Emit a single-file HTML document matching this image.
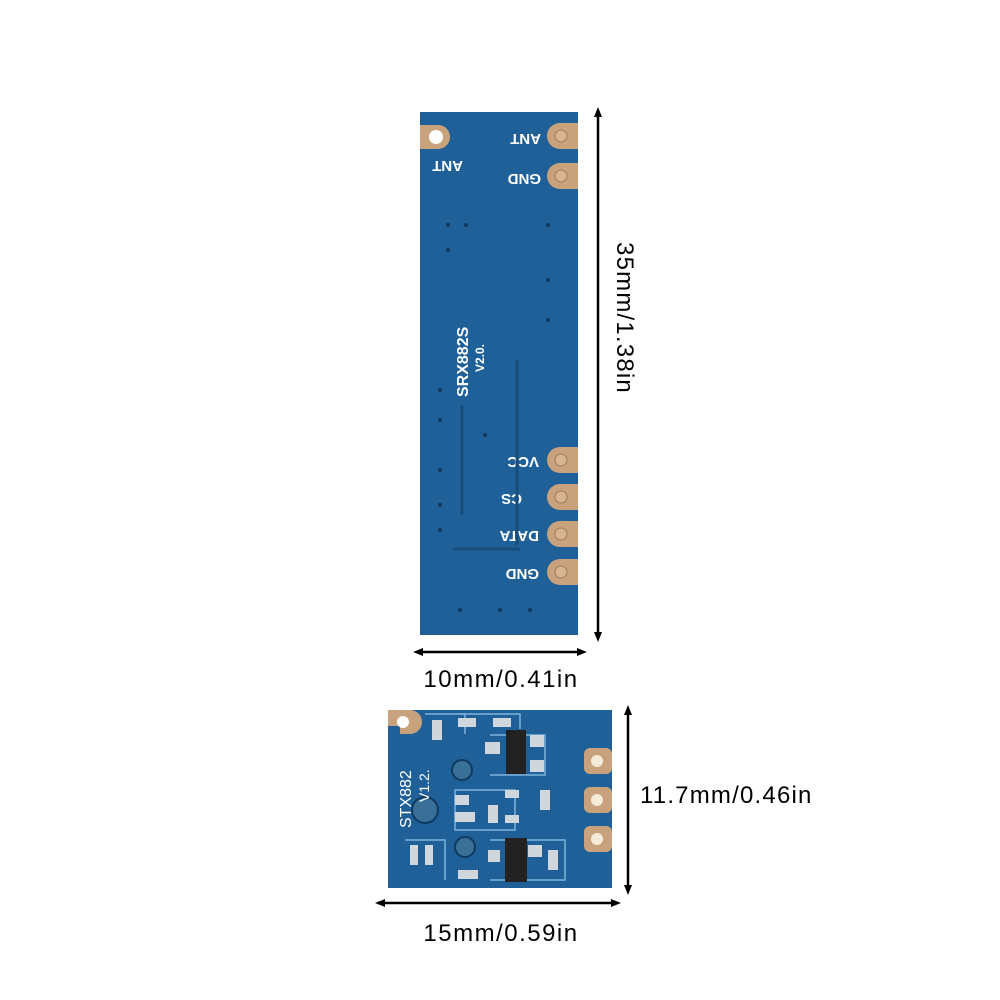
<!DOCTYPE html>
<html><head><style>
html,body{margin:0;padding:0;background:#fff;}
svg{display:block;}
</style></head><body>
<svg width="1000" height="1000" viewBox="0 0 1000 1000" xmlns="http://www.w3.org/2000/svg" font-family="Liberation Sans, sans-serif">
<defs>
<marker id="ah" markerWidth="10" markerHeight="10" refX="5" refY="5" orient="auto-start-reverse" markerUnits="userSpaceOnUse">
<path d="M0,1 L10,5 L0,9 Z" fill="#000"/></marker>
</defs>
<!-- top board -->
<rect x="420" y="112" width="158" height="523" fill="#1e5f98"/>
<rect x="422" y="114" width="154" height="519" fill="#1f6099"/>
<g fill="#c8a27c">
<path d="M420,125 h18 a12,12 0 0 1 0,24 h-18 z"/>
<path d="M578,123 h-18 a13,13 0 0 0 0,26 h18 z"/>
<path d="M578,163 h-18 a13,13 0 0 0 0,26 h18 z"/>
<path d="M578,447 h-18 a13,13 0 0 0 0,26 h18 z"/>
<path d="M578,484 h-18 a13,13 0 0 0 0,26 h18 z"/>
<path d="M578,521 h-18 a13,13 0 0 0 0,26 h18 z"/>
<path d="M578,559 h-18 a13,13 0 0 0 0,26 h18 z"/>
</g>
<circle cx="436" cy="137" r="7" fill="#fff"/>
<g fill="#d8b592" stroke="#a07a55" stroke-width="1">
<circle cx="561" cy="136" r="6"/><circle cx="561" cy="176" r="6"/>
<circle cx="561" cy="460" r="6"/><circle cx="561" cy="497" r="6"/>
<circle cx="561" cy="534" r="6"/><circle cx="561" cy="572" r="6"/>
</g>
<g fill="#fff" font-weight="bold" font-size="15">
<text transform="translate(541,134) rotate(180)">ANT</text>
<text transform="translate(541,174) rotate(180)">GND</text>
<text transform="translate(463,161) rotate(180)">ANT</text>
<text transform="translate(539,457) rotate(180)">VCC</text>
<text transform="translate(522,494) rotate(180)">CS</text>
<text transform="translate(539,531) rotate(180)">DATA</text>
<text transform="translate(539,569) rotate(180)">GND</text>
<text transform="translate(468,397) rotate(-90)" font-size="16">SRX882S</text>
<text transform="translate(484,372) rotate(-90)" font-size="12">V2.0.</text>
</g>
<g stroke="#174d7d" stroke-width="3" fill="none">
<path d="M517,360 V545"/>
<path d="M462,405 V515"/>
<path d="M453,549 H520"/>
</g>
<g fill="#0f3a60">
<circle cx="448" cy="225" r="2"/><circle cx="466" cy="225" r="2"/><circle cx="548" cy="225" r="2"/>
<circle cx="448" cy="250" r="2"/><circle cx="548" cy="280" r="2"/><circle cx="548" cy="320" r="2"/>
<circle cx="440" cy="390" r="2"/><circle cx="440" cy="420" r="2"/><circle cx="485" cy="435" r="2"/>
<circle cx="440" cy="470" r="2"/><circle cx="440" cy="505" r="2"/><circle cx="440" cy="530" r="2"/>
<circle cx="460" cy="610" r="2"/><circle cx="500" cy="610" r="2"/><circle cx="530" cy="610" r="2"/>
</g>
<!-- top arrows -->
<line x1="598" y1="112" x2="598" y2="637" stroke="#000" stroke-width="2.5" marker-start="url(#ah)" marker-end="url(#ah)"/>
<text transform="translate(617,318) rotate(90)" font-size="24" letter-spacing="1.2" text-anchor="middle" fill="#000">35mm/1.38in</text>
<line x1="418" y1="652" x2="582" y2="652" stroke="#000" stroke-width="2.5" marker-start="url(#ah)" marker-end="url(#ah)"/>
<text x="501" y="687" font-size="24" letter-spacing="1.5" text-anchor="middle" fill="#000">10mm/0.41in</text>
<!-- bottom board -->
<rect x="388" y="710" width="224" height="178" fill="#1f6099"/>
<path d="M388,710 h22 a12,12 0 0 1 0,24 h-10 v-8 h-12 z" fill="#c8a27c"/>
<circle cx="403" cy="722" r="6" fill="#fff"/>
<g fill="#c8a27c">
<rect x="584" y="748" width="28" height="26" rx="6"/>
<rect x="584" y="787" width="28" height="26" rx="6"/>
<rect x="584" y="826" width="28" height="26" rx="6"/>
</g>
<g fill="#f5ecd8"><circle cx="597" cy="761" r="6"/><circle cx="597" cy="800" r="6"/><circle cx="597" cy="839" r="6"/></g>
<g stroke="#7fb2de" stroke-width="1.5" fill="none">
<path d="M425,714 h40 v20"/><path d="M460,714 h60 v15"/><path d="M490,735 h55 v40 h-55"/><path d="M455,790 h60 v40 h-60 z"/>
<path d="M490,840 h75 v40 h-75"/><path d="M405,840 h40 v40"/>
</g>
<g fill="#222">
<rect x="506" y="730" width="20" height="44"/><rect x="505" y="838" width="22" height="44"/>
</g>
<g fill="#cfd6dc">
<rect x="432" y="720" width="10" height="20"/><rect x="458" y="718" width="18" height="9"/><rect x="493" y="718" width="18" height="9"/>
<rect x="485" y="742" width="15" height="12"/><rect x="530" y="735" width="14" height="12"/><rect x="530" y="760" width="14" height="12"/>
<rect x="455" y="795" width="14" height="10"/><rect x="455" y="812" width="20" height="10"/><rect x="488" y="805" width="10" height="18"/>
<rect x="505" y="790" width="14" height="8"/><rect x="540" y="790" width="10" height="20"/><rect x="505" y="815" width="14" height="8"/>
<rect x="410" y="845" width="8" height="20"/><rect x="425" y="845" width="8" height="20"/><rect x="458" y="870" width="20" height="9"/>
<rect x="488" y="850" width="12" height="12"/><rect x="528" y="845" width="14" height="12"/><rect x="548" y="850" width="10" height="20"/>
</g>
<g fill="#3a6f98" stroke="#0f3a60" stroke-width="2">
<circle cx="462" cy="770" r="10"/><circle cx="425" cy="810" r="13"/><circle cx="465" cy="847" r="10"/>
</g>
<g fill="#fff" font-size="16">
<text transform="translate(411,828) rotate(-90)">STX882</text>
<text transform="translate(429,802) rotate(-90)" font-size="14">V1.2.</text>
</g>
<!-- bottom arrows -->
<line x1="628" y1="710" x2="628" y2="890" stroke="#000" stroke-width="2.5" marker-start="url(#ah)" marker-end="url(#ah)"/>
<text x="640" y="803" font-size="24" letter-spacing="1.2" fill="#000">11.7mm/0.46in</text>
<line x1="380" y1="903" x2="616" y2="903" stroke="#000" stroke-width="2.5" marker-start="url(#ah)" marker-end="url(#ah)"/>
<text x="501" y="941" font-size="24" letter-spacing="1.5" text-anchor="middle" fill="#000">15mm/0.59in</text>
</svg>
</body></html>
